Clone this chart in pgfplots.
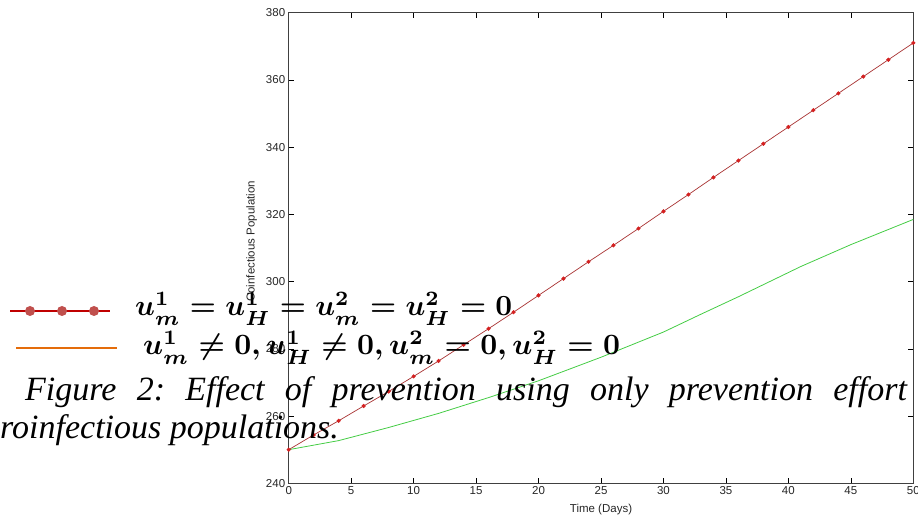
\documentclass[border=0pt]{standalone}
\usepackage{fontspec}
\usepackage{amsmath}
\usepackage{graphicx}
\usepackage{pgfplots}
\pgfplotsset{compat=1.18}
\newfontfamily\arialfont{Liberation Sans}
\newfontfamily\timesfont{Liberation Serif}
\definecolor{redline}{HTML}{A83232}
\definecolor{redmark}{HTML}{D42020}
\definecolor{greenline}{HTML}{44CC44}
\definecolor{legred}{HTML}{C00000}
\definecolor{legcirc}{HTML}{C0504D}
\definecolor{legorange}{HTML}{E46C0A}
\frenchspacing
\begin{document}
\begin{tikzpicture}
\useasboundingbox (0,0) rectangle (918pt,519pt);
\begin{axis}[
  at={(288.7pt,35.7pt)}, anchor=south west,
  scale only axis, width=624.6pt, height=470.6pt,
  xmin=0, xmax=50, ymin=240, ymax=380,
  xtick={0,5,...,50}, ytick={240,260,...,380},
  tick pos=both, tick align=inside, major tick length=5pt,
  axis line style={black!75, line width=0.9pt},
  tick style={black, line width=0.6pt},
  /pgf/number format/assume math mode=true,
  ticklabel style={font=\arialfont\fontsize{11.5}{13}\selectfont, text=black!85},
  xlabel={Time (Days)}, ylabel={Coinfectious Population},
  label style={font=\arialfont\fontsize{11.5}{13}\selectfont, text=black!85},
  xlabel style={at={(axis description cs:0.5,0)}, anchor=base, yshift=-29.7pt},
  ylabel style={at={(axis description cs:-0.0592,0.514)}, anchor=center},
  clip=false,
]
\addplot[color=redline, line width=0.7pt, mark=*, mark size=1.7pt,
  mark options={fill=redmark, draw=redmark}] coordinates {
(0,250) (2,254.4) (4,258.6) (6,263) (8,267.3) (10,271.8) (12,276.4) (14,281.2)
(16,286) (18,290.9) (20,295.9) (22,300.9) (24,305.9) (26,310.8) (28,315.8)
(30,320.9) (32,325.9) (34,331) (36,336) (38,341) (40,346) (42,351) (44,356)
(46,361) (48,366) (50,371)};
\addplot[color=greenline, line width=0.8pt] coordinates {
(0,250) (4,252.7) (8,256.6) (12,260.8) (16,265.5) (20,270.5) (25,277.5)
(30,285) (33,290.3) (36,295.5) (41,304.5) (45,311) (50,318.5)};
\end{axis}
% overlaid legend
\draw[legred, line width=2.6pt] (10pt,208pt) -- (110pt,208pt);
\foreach \cx in {30,62,94} \fill[legcirc] (\cx pt,208pt) circle (5pt);
\draw[legorange, line width=2.6pt] (16pt,171pt) -- (117pt,171pt);
\node[anchor=base west, inner sep=0pt] at (135pt,203pt)
  {\resizebox{377pt}{!}{\boldmath$u_m^1 = u_H^1 = u_m^2 = u_H^2 = 0$}};
\node[anchor=base west, inner sep=0pt] at (143pt,164pt)
  {\resizebox{477pt}{!}{\boldmath$u_m^1 \neq 0, u_H^1 \neq 0, u_m^2 = 0, u_H^2 = 0$}};
% overlaid caption
\node[anchor=base west, inner sep=0pt] at (25pt,118.3pt)
  {\timesfont\itshape\fontsize{34}{40}\selectfont\makebox[881.7pt][s]{Figure 2: Effect of prevention using only prevention effort}};
\node[anchor=base west, inner sep=0pt] at (0pt,80pt)
  {\timesfont\itshape\fontsize{34}{40}\selectfont roinfectious populations.};
\end{tikzpicture}
\end{document}
